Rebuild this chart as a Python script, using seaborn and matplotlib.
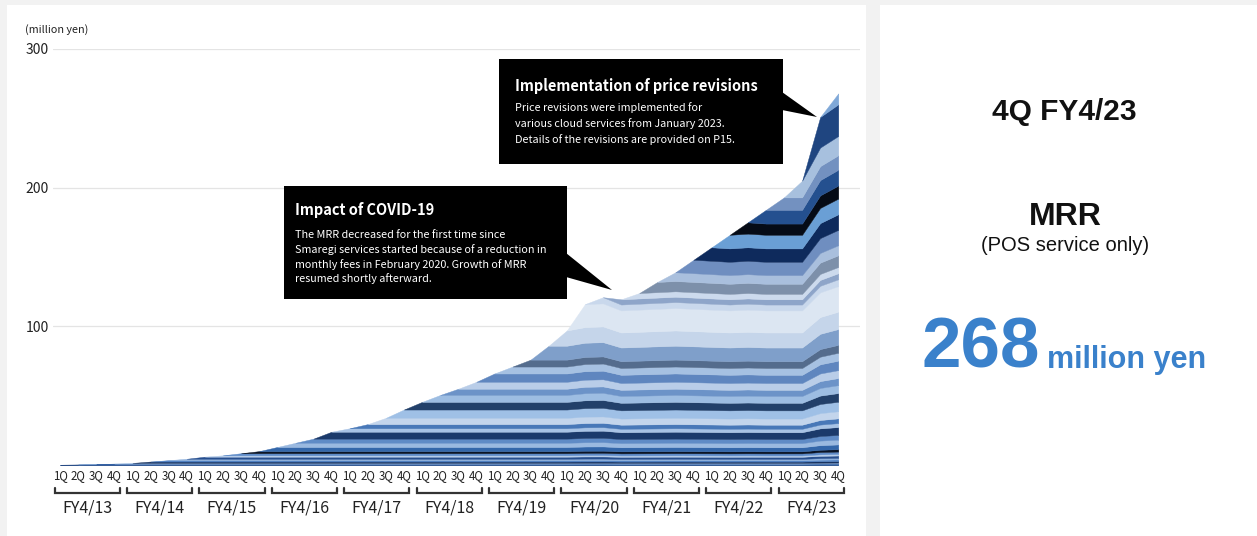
import numpy as np
import matplotlib
matplotlib.use("Agg")
import matplotlib.pyplot as plt
from matplotlib.patches import Rectangle, Polygon
import seaborn as sns

# ---------------------------------------------------------------- data
fiscal_years = ["FY4/13", "FY4/14", "FY4/15", "FY4/16", "FY4/17", "FY4/18",
                "FY4/19", "FY4/20", "FY4/21", "FY4/22", "FY4/23"]
quarter_names = ["1Q", "2Q", "3Q", "4Q"]

# total MRR at each quarter end (million yen)
total_mrr = [0.2, 0.4, 0.7, 1.0,
             1.5, 2.5, 3.5, 4.5,
             6.0, 7.0, 8.5, 10.0,
             13.0, 16.0, 19.0, 24.0,
             26.5, 29.5, 34.0, 40.0,
             45.5, 50.5, 55.0, 60.0,
             66.0, 71.0, 76.0, 86.0,
             97.0, 116.0, 121.0, 119.5,
             124.0, 132.0, 139.0, 148.0,
             157.0, 166.0, 175.0, 184.0,
             193.0, 205.0, 251.0, 268.0]

# relative fee level applied to every existing cohort in each quarter
price_level = [1.0, 1.0, 1.0, 1.0,
               1.0, 1.0, 1.0, 1.0,
               1.0, 1.0, 1.0, 1.0,
               1.0, 1.0, 1.0, 1.0,
               1.0, 1.0, 1.0, 1.0,
               1.0, 1.0, 1.0, 1.0,
               1.0, 1.0, 1.0, 1.0,
               1.0, 1.025, 1.03, 0.985,
               0.99, 0.995, 1.0, 0.995,
               0.99, 0.985, 0.99, 0.985,
               0.985, 0.985, 1.10, 1.14]

headline_value = 268

# one colour per quarterly cohort, bottom to top
cohort_colors = [
    "#3b6db0", "#1e3f78", "#6d98cf", "#2a5aa0",
    "#a3c0e4", "#17325f", "#4f80c2", "#8db0dc",
    "#264e8e", "#b5cce9", "#5e8bc8", "#0a1426",
    "#3467aa", "#9ab9e0", "#5f8bc6", "#1b3a6b",
    "#a8c3e5", "#4878b8", "#c3d5ec", "#9fc0e6",
    "#22406a", "#9dbde2", "#6c93c8", "#b9cde8",
    "#5f86bf", "#a6c1e2", "#546c8d", "#7f9fca",
    "#c5d5ea", "#dce6f2", "#c9d8ec", "#8ea5c9",
    "#ccdaed", "#7d90aa", "#a9bfdd", "#6f8ec0",
    "#0e2a5c", "#6a9fd5", "#050b16", "#24508f",
    "#7391c0", "#a7c0de", "#1f4580", "#7fa8d8",
]

# ---------------------------------------------------------------- cohort layers
totals = np.array(total_mrr)
level = np.array(price_level)
n_q = len(totals)
cohort_base = np.diff(totals / level, prepend=0.0)
layers = np.zeros((n_q, n_q))
for k in range(n_q):
    layers[k, k:] = cohort_base[k] * level[k:]
x = np.arange(n_q)
stack = np.vstack([np.zeros(n_q), np.cumsum(layers, axis=0)])

# ---------------------------------------------------------------- figure
W, H = 1257, 536
sns.set_theme(style="white")
plt.rcParams["font.family"] = ["Noto Sans CJK JP", "DejaVu Sans"]

fig = plt.figure(figsize=(W / 100, H / 100), dpi=100, facecolor="#f2f2f2")


def fx(px):
    return px / W


def fy(py):
    return 1 - py / H


# white panels behind everything
fig.patches.append(Rectangle((fx(7), 0), fx(866) - fx(7), fy(5),
                             transform=fig.transFigure, facecolor="white",
                             edgecolor="none", zorder=-10))
fig.patches.append(Rectangle((fx(880), 0), 1 - fx(880), fy(5),
                             transform=fig.transFigure, facecolor="white",
                             edgecolor="none", zorder=-10))

ax = fig.add_axes([fx(53), fy(465), fx(860) - fx(53), fy(49) - fy(465)])
ax.set_facecolor("none")
ax.set_zorder(1)

# each cohort is drawn from the quarter before it appears, so it grows in as a wedge
palette = sns.color_palette(cohort_colors)
for k in range(n_q):
    ax.fill_between(x, stack[k], stack[k + 1], where=x >= k - 1,
                    facecolor=palette[k], edgecolor=palette[k], linewidth=0.3)

ax.set_xlim(-0.39, 44.2)
ax.set_ylim(0, 300)
ax.set_yticks([100, 200, 300])
ax.yaxis.grid(True, color="#e4e4e4", linewidth=0.9)
ax.xaxis.grid(False)
ax.set_axisbelow(True)
for s in ax.spines.values():
    s.set_visible(False)
ax.set_xticks([])
ax.tick_params(axis="y", length=0, pad=3, labelsize=10, labelcolor="#222222")


def y_ax(py):
    return (465 - py) / (465 - 49)


xt = ax.get_xaxis_transform()
for i in range(n_q):
    ax.text(i, y_ax(476), quarter_names[i % 4], transform=xt, ha="center",
            va="center", fontsize=8.3, color="#222222", clip_on=False)
for j, fy_label in enumerate(fiscal_years):
    x0, x1 = 4 * j - 0.3, 4 * j + 3.3
    ax.plot([x0, x0, x1, x1], [y_ax(488), y_ax(493), y_ax(493), y_ax(488)],
            transform=xt, color="#333333", lw=1.6, clip_on=False,
            solid_joinstyle="miter")
    ax.text(4 * j + 1.5, y_ax(508), fy_label, transform=xt, ha="center",
            va="center", fontsize=11.5, color="#222222", clip_on=False)

fig.text(fx(25), fy(30), "(million yen)", fontsize=7.8, color="#222222",
         ha="left", va="center")


# ---------------------------------------------------------------- callouts
def callout(box, title, title_y, lines, line_y0, spacing, base, tip, text_x):
    x0, y0, x1, y1 = box
    fig.patches.append(Rectangle((fx(x0), fy(y1)), fx(x1) - fx(x0), fy(y0) - fy(y1),
                                 transform=fig.transFigure, facecolor="black",
                                 edgecolor="none", zorder=5))
    fig.patches.append(Polygon([(fx(x1 - 1), fy(base[0])), (fx(x1 - 1), fy(base[1])),
                                (fx(tip[0]), fy(tip[1]))], closed=True,
                               transform=fig.transFigure, facecolor="black",
                               edgecolor="none", zorder=5))
    fig.text(fx(text_x), fy(title_y), title, color="white", fontsize=10.5,
             fontweight="bold", ha="left", va="center", zorder=6)
    for i, ln in enumerate(lines):
        fig.text(fx(text_x), fy(line_y0 + i * spacing), ln, color="white",
                 fontsize=7.8, ha="left", va="center", zorder=6)


callout((284, 186, 567, 299), "Impact of COVID-19", 210,
        ["The MRR decreased for the first time since",
         "Smaregi services started because of a reduction in",
         "monthly fees in February 2020. Growth of MRR",
         "resumed shortly afterward."],
        234.5, 14.8, (253, 277), (612, 290), 295)

callout((499, 59, 783, 164), "Implementation of price revisions", 86,
        ["Price revisions were implemented for",
         "various cloud services from January 2023.",
         "Details of the revisions are provided on P15."],
        108, 16, (92, 110), (817, 117), 515)

# ---------------------------------------------------------------- headline panel
sans = ["Liberation Sans", "DejaVu Sans"]
blue = "#3a81cb"
fig.text(fx(1064), fy(112), "4Q FY4/23", family=sans, fontsize=21.5,
         fontweight="bold", ha="center", va="center", color="#111111")
fig.text(fx(1065), fy(217), "MRR", family=sans, fontsize=23,
         fontweight="bold", ha="center", va="center", color="#111111")
fig.text(fx(1065), fy(246), "(POS service only)", family=sans, fontsize=14.5,
         ha="center", va="center", color="#111111")
fig.text(fx(922), fy(368), f"{headline_value}", family=sans, fontsize=51,
         fontweight="bold", ha="left", va="baseline", color=blue)
fig.text(fx(1047), fy(368), "million yen", family=sans, fontsize=22,
         fontweight="bold", ha="left", va="baseline", color=blue)

fig.savefig("out.png", dpi=100, facecolor=fig.get_facecolor())
